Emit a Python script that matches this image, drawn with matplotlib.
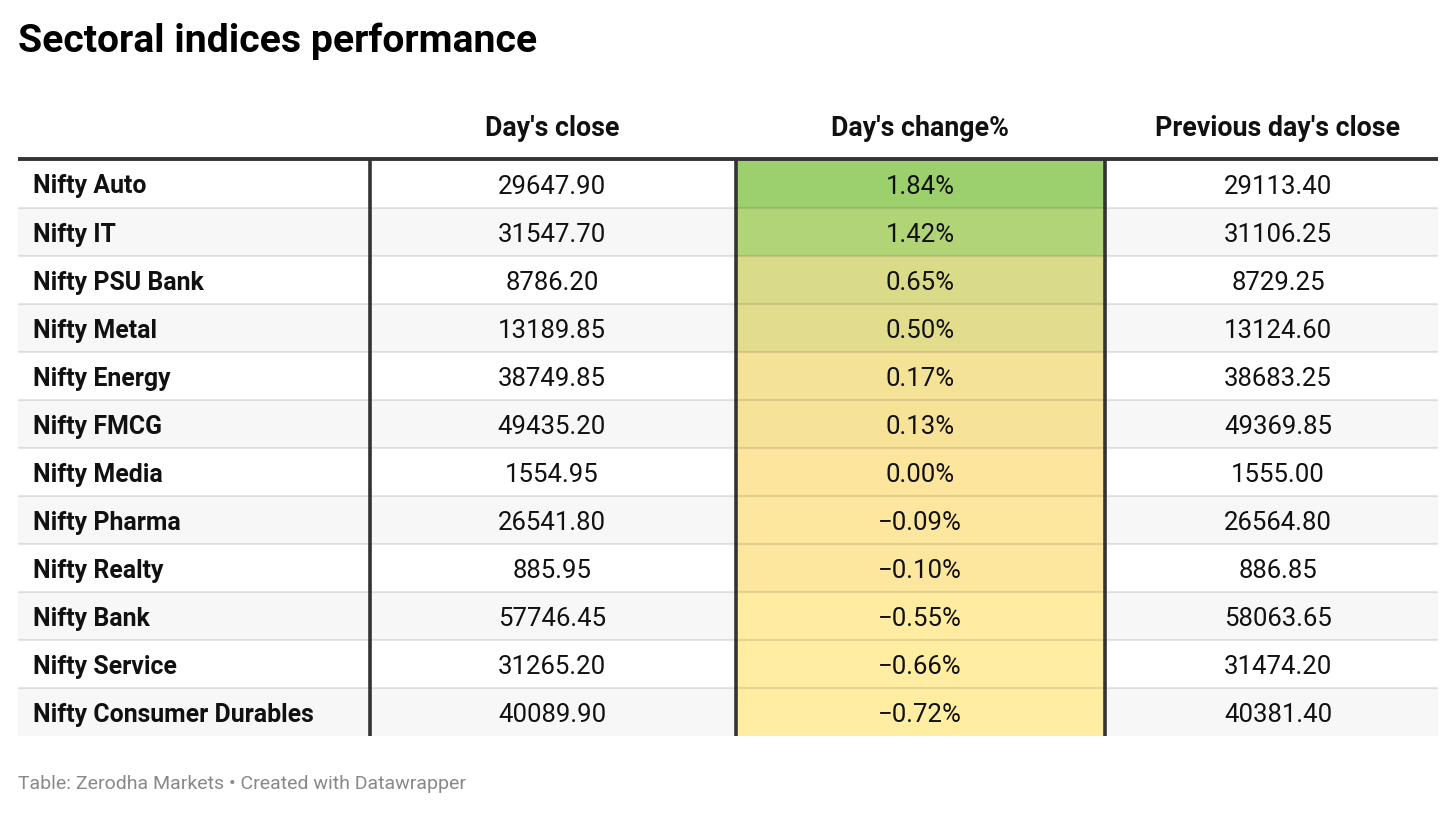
import matplotlib.pyplot as plt
from matplotlib.colors import LinearSegmentedColormap, Normalize
from matplotlib.patches import Rectangle

plt.rcParams["font.family"] = ["Roboto", "DejaVu Sans"]

# Table data
indices = ["Nifty Auto", "Nifty IT", "Nifty PSU Bank", "Nifty Metal", "Nifty Energy",
           "Nifty FMCG", "Nifty Media", "Nifty Pharma", "Nifty Realty", "Nifty Bank",
           "Nifty Service", "Nifty Consumer Durables"]
days_close = [29647.90, 31547.70, 8786.20, 13189.85, 38749.85, 49435.20,
              1554.95, 26541.80, 885.95, 57746.45, 31265.20, 40089.90]
days_change = [1.84, 1.42, 0.65, 0.50, 0.17, 0.13, 0.00, -0.09, -0.10, -0.55, -0.66, -0.72]
prev_close = [29113.40, 31106.25, 8729.25, 13124.60, 38683.25, 49369.85,
              1555.00, 26564.80, 886.85, 58063.65, 31474.20, 40381.40]
headers = ["", "Day's close", "Day's change%", "Previous day's close"]

# Layout in pixels (figure drawn in pixel coordinates)
W, H = 1456, 813
col_edges = [18, 370, 736, 1105, 1438]
text_x = [33, 552, 920, 1278]
top = 160
row_h = 48

fig = plt.figure(figsize=(W / 100, H / 100), dpi=100)
ax = fig.add_axes([0, 0, 1, 1])
ax.set_xlim(0, W)
ax.set_ylim(H, 0)
ax.axis("off")

# colour scale for the change column
lo, hi = min(days_change), max(days_change)
stops = [(lo, "#ffeea1"), (0.0, "#fde59d"), (0.5, "#e2dd8c"), (hi, "#9bd06c")]
cmap = LinearSegmentedColormap.from_list(
    "chg", [((v - lo) / (hi - lo), c) for v, c in stops])
norm = Normalize(lo, hi)

# title and footer
ax.text(18, 41, "Sectoral indices performance", fontsize=28.2, fontweight="bold",
        ha="left", va="center", color="#000")
ax.text(18, 784, "Table: Zerodha Markets \u2022 Created with Datawrapper", fontsize=14,
        ha="left", va="center", color="#888888")

# headers
for j, h in enumerate(headers):
    if h:
        ax.text(text_x[j], 129, h, fontsize=19.3, fontweight="bold", ha="center",
                va="center", color="#111")

for i, name in enumerate(indices):
    y0 = top + i * row_h
    bg = "#ffffff" if i % 2 == 0 else "#f7f7f7"
    ax.add_patch(Rectangle((col_edges[0], y0), col_edges[-1] - col_edges[0], row_h,
                           facecolor=bg, edgecolor="none", zorder=1))
    ax.add_patch(Rectangle((col_edges[2], y0), col_edges[3] - col_edges[2], row_h,
                           facecolor=cmap(norm(days_change[i])), edgecolor="none", zorder=1))
    if i > 0:
        ax.plot([col_edges[0], col_edges[-1]], [y0, y0], color="#000000", alpha=0.1,
                lw=1.5, zorder=2, solid_capstyle="butt")
    yc = y0 + row_h / 2 + 2.5
    ax.text(text_x[0], yc, name, fontsize=17.9, fontweight="bold", ha="left", va="center",
            color="#111", zorder=3)
    ax.text(text_x[1], yc, f"{days_close[i]:.2f}", fontsize=18.5,
            ha="center", va="center", color="#111", zorder=3)
    chg = f"{days_change[i]:.2f}%".replace("-", "\u2212")
    ax.text(text_x[2], yc, chg, fontsize=18.5,
            ha="center", va="center", color="#111", zorder=3)
    ax.text(text_x[3], yc, f"{prev_close[i]:.2f}", fontsize=18.5,
            ha="center", va="center", color="#111", zorder=3)

bottom = top + len(indices) * row_h
for x in col_edges[1:4]:
    ax.plot([x, x], [top - 1, bottom], color="#333333", lw=2.6, zorder=4,
            solid_capstyle="butt")
ax.plot([col_edges[0], col_edges[-1]], [159, 159], color="#333333", lw=2.8, zorder=5,
        solid_capstyle="butt")

fig.savefig("out.png", dpi=100)
